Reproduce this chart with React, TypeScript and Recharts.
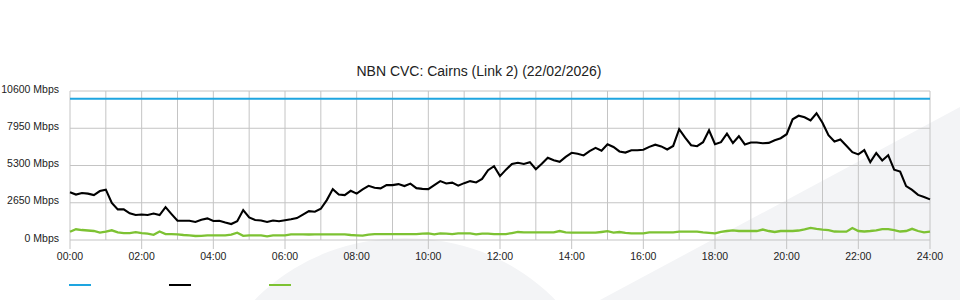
// App.tsx
// NBN CVC link utilisation for one day, 10-minute samples.
// Uses recharts LineChart with a fixed 960x300 size.

import * as React from "react";
import { LineChart, Line, XAxis, YAxis, CartesianGrid } from "recharts";

const chartTitle = "NBN CVC: Cairns (Link 2) (22/02/2026)";

// y axis ticks (Mbps)
const yTicks = [0, 2650, 5300, 7950, 10600];

// hour grid, labels only on even hours
const hourTicks = [
  0, 60, 120, 180, 240, 300, 360, 420, 480, 540, 600, 660, 720, 780, 840,
  900, 960, 1020, 1080, 1140, 1200, 1260, 1320, 1380, 1440,
];

// provisioned capacity (blue)
const linkCapacity = 10050;

// traffic, black series (Mbps) – one value every 10 minutes, 00:00 .. 24:00
const trafficDown = [
  3390, 3230, 3340, 3300, 3195, 3480, 3585, 2630, 2180, 2180, 1895, 1775, // 00-02
  1810, 1775, 1880, 1775, 2340, 1845, 1365, 1370, 1370, 1280, 1440, 1540, // 02-04
  1350, 1370, 1240, 1135, 1335, 2130, 1600, 1420, 1385, 1280, 1385, 1330, // 04-06
  1405, 1475, 1560, 1810, 2050, 2015, 2220, 2840, 3620, 3230, 3195, 3500, // 06-08
  3300, 3600, 3855, 3715, 3670, 3905, 3905, 3975, 3835, 4010, 3690, 3635, // 08-10
  3620, 3905, 4190, 4025, 4080, 3870, 4045, 4190, 4095, 4345, 4970, 5255, // 10-12
  4545, 5005, 5410, 5490, 5410, 5540, 5040, 5430, 5850, 5680, 5565, 5915, // 12-14
  6205, 6135, 6015, 6325, 6555, 6355, 6815, 6615, 6300, 6220, 6390, 6390, // 14-16
  6425, 6625, 6780, 6660, 6440, 6690, 7880, 7280, 6745, 6675, 6960, 7810, // 16-18
  6815, 6960, 7560, 6900, 7385, 6795, 6935, 6935, 6885, 6910, 7100, 7240, // 18-20
  7525, 8590, 8840, 8735, 8500, 9015, 8340, 7455, 7010, 7150, 6710, 6250, // 20-22
  6090, 6390, 5540, 6190, 5660, 6035, 5005, 4865, 3835, 3565, 3210, 3055, // 22-24
  2890,
];

// traffic, green series (Mbps)
const trafficUp = [
  590, 765, 710, 675, 640, 530, 590, 690, 545, 495, 495, 555,
  485, 460, 370, 605, 425, 425, 405, 355, 335, 285, 300, 335,
  335, 335, 335, 390, 520, 300, 335, 335, 335, 265, 335, 335,
  335, 405, 405, 405, 390, 405, 405, 405, 405, 405, 405, 355,
  335, 305, 390, 425, 425, 425, 425, 425, 425, 425, 425, 460,
  475, 405, 475, 460, 425, 475, 475, 475, 405, 460, 460, 425,
  425, 425, 495, 570, 545, 545, 545, 545, 545, 545, 640, 545,
  520, 520, 520, 520, 520, 570, 625, 530, 570, 510, 475, 475,
  475, 545, 545, 545, 545, 545, 590, 590, 590, 590, 545, 510,
  475, 570, 640, 690, 640, 640, 640, 640, 745, 640, 570, 640,
  640, 640, 675, 760, 865, 795, 745, 710, 605, 590, 590, 850,
  640, 605, 640, 690, 780, 780, 710, 605, 640, 795, 640, 545,
  590,
];

const FONT = "'Liberation Sans', Arial, Helvetica, sans-serif";
const GRID = "#c4c4c4";
const BLUE = "#1ea5e0";
const BLACK = "#000000";
const GREEN = "#7dc233";

const data = trafficDown.map((down, i) => ({
  minute: i * 10,
  capacity: linkCapacity,
  down,
  up: trafficUp[i],
}));

const pad = (n: number) => (n < 10 ? "0" + n : String(n));

// eslint-disable-next-line @typescript-eslint/no-explicit-any
const HourTick = (props: any) => {
  const { x, y, payload } = props;
  const m = payload.value as number;
  if (m % 120 !== 0) return <g />;
  return (
    <g>
      <line x1={x} x2={x} y1={y} y2={y + 9} stroke={GRID} />
      <text
        x={x}
        y={y + 20}
        textAnchor="middle"
        fontSize={10.5}
        fontFamily={FONT}
        fill="#222"
      >
        {pad(Math.floor(m / 60)) + ":00"}
      </text>
    </g>
  );
};

// eslint-disable-next-line @typescript-eslint/no-explicit-any
const MbpsTick = (props: any) => {
  const { x, y, payload } = props;
  return (
    <text
      x={x}
      y={y - 2}
      dy="0.355em"
      textAnchor="end"
      fontSize={10.5}
      fontFamily={FONT}
      fill="#222"
    >
      {payload.value + " Mbps"}
    </text>
  );
};

const legendColors = [BLUE, BLACK, GREEN];

const App: React.FC = () => {
  return (
    <div
      style={{
        position: "absolute",
        left: 0,
        top: 0,
        width: 960,
        height: 300,
        background: "#fff",
        overflow: "hidden",
      }}
    >
      {/* faint logo watermark behind the plot */}
      <svg
        width={960}
        height={300}
        style={{ position: "absolute", left: 0, top: 0 }}
      >
        <ellipse cx={405} cy={420} rx={200} ry={182} fill="#f3f4f6" />
        <polygon points="600,300 960,107 960,300" fill="#f3f4f6" />
      </svg>

      <div
        style={{
          position: "absolute",
          top: 63,
          left: 0,
          width: 958,
          textAlign: "center",
          fontFamily: FONT,
          fontSize: 14,
          color: "#222",
        }}
      >
        {chartTitle}
      </div>

      <div style={{ position: "absolute", left: 0, top: 0 }}>
        <LineChart
          width={960}
          height={300}
          data={data}
          margin={{ top: 91, right: 30, left: 0, bottom: 30 }}
        >
          <CartesianGrid stroke={GRID} />
          <XAxis
            dataKey="minute"
            type="number"
            domain={[0, 1440]}
            ticks={hourTicks}
            interval={0}
            axisLine={false}
            tickLine={false}
            tickSize={0}
            tickMargin={0}
            height={30}
            tick={HourTick}
          />
          <YAxis
            domain={[0, 10600]}
            ticks={yTicks}
            interval={0}
            width={70}
            axisLine={false}
            tickLine={false}
            tickSize={6}
            tickMargin={5}
            tick={MbpsTick}
          />
          <Line
            type="linear"
            dataKey="capacity"
            stroke={BLUE}
            strokeWidth={2}
            dot={false}
            isAnimationActive={false}
          />
          <Line
            type="linear"
            dataKey="up"
            stroke={GREEN}
            strokeWidth={2.3}
            dot={false}
            isAnimationActive={false}
          />
          <Line
            type="linear"
            dataKey="down"
            stroke={BLACK}
            strokeWidth={2.1}
            dot={false}
            isAnimationActive={false}
          />
        </LineChart>
      </div>

      {/* legend: colour swatches only */}
      {legendColors.map((c, i) => (
        <div
          key={c}
          style={{
            position: "absolute",
            left: 69 + i * 100,
            top: 284,
            width: 22,
            height: 2,
            background: c,
          }}
        />
      ))}
    </div>
  );
};

export default App;
